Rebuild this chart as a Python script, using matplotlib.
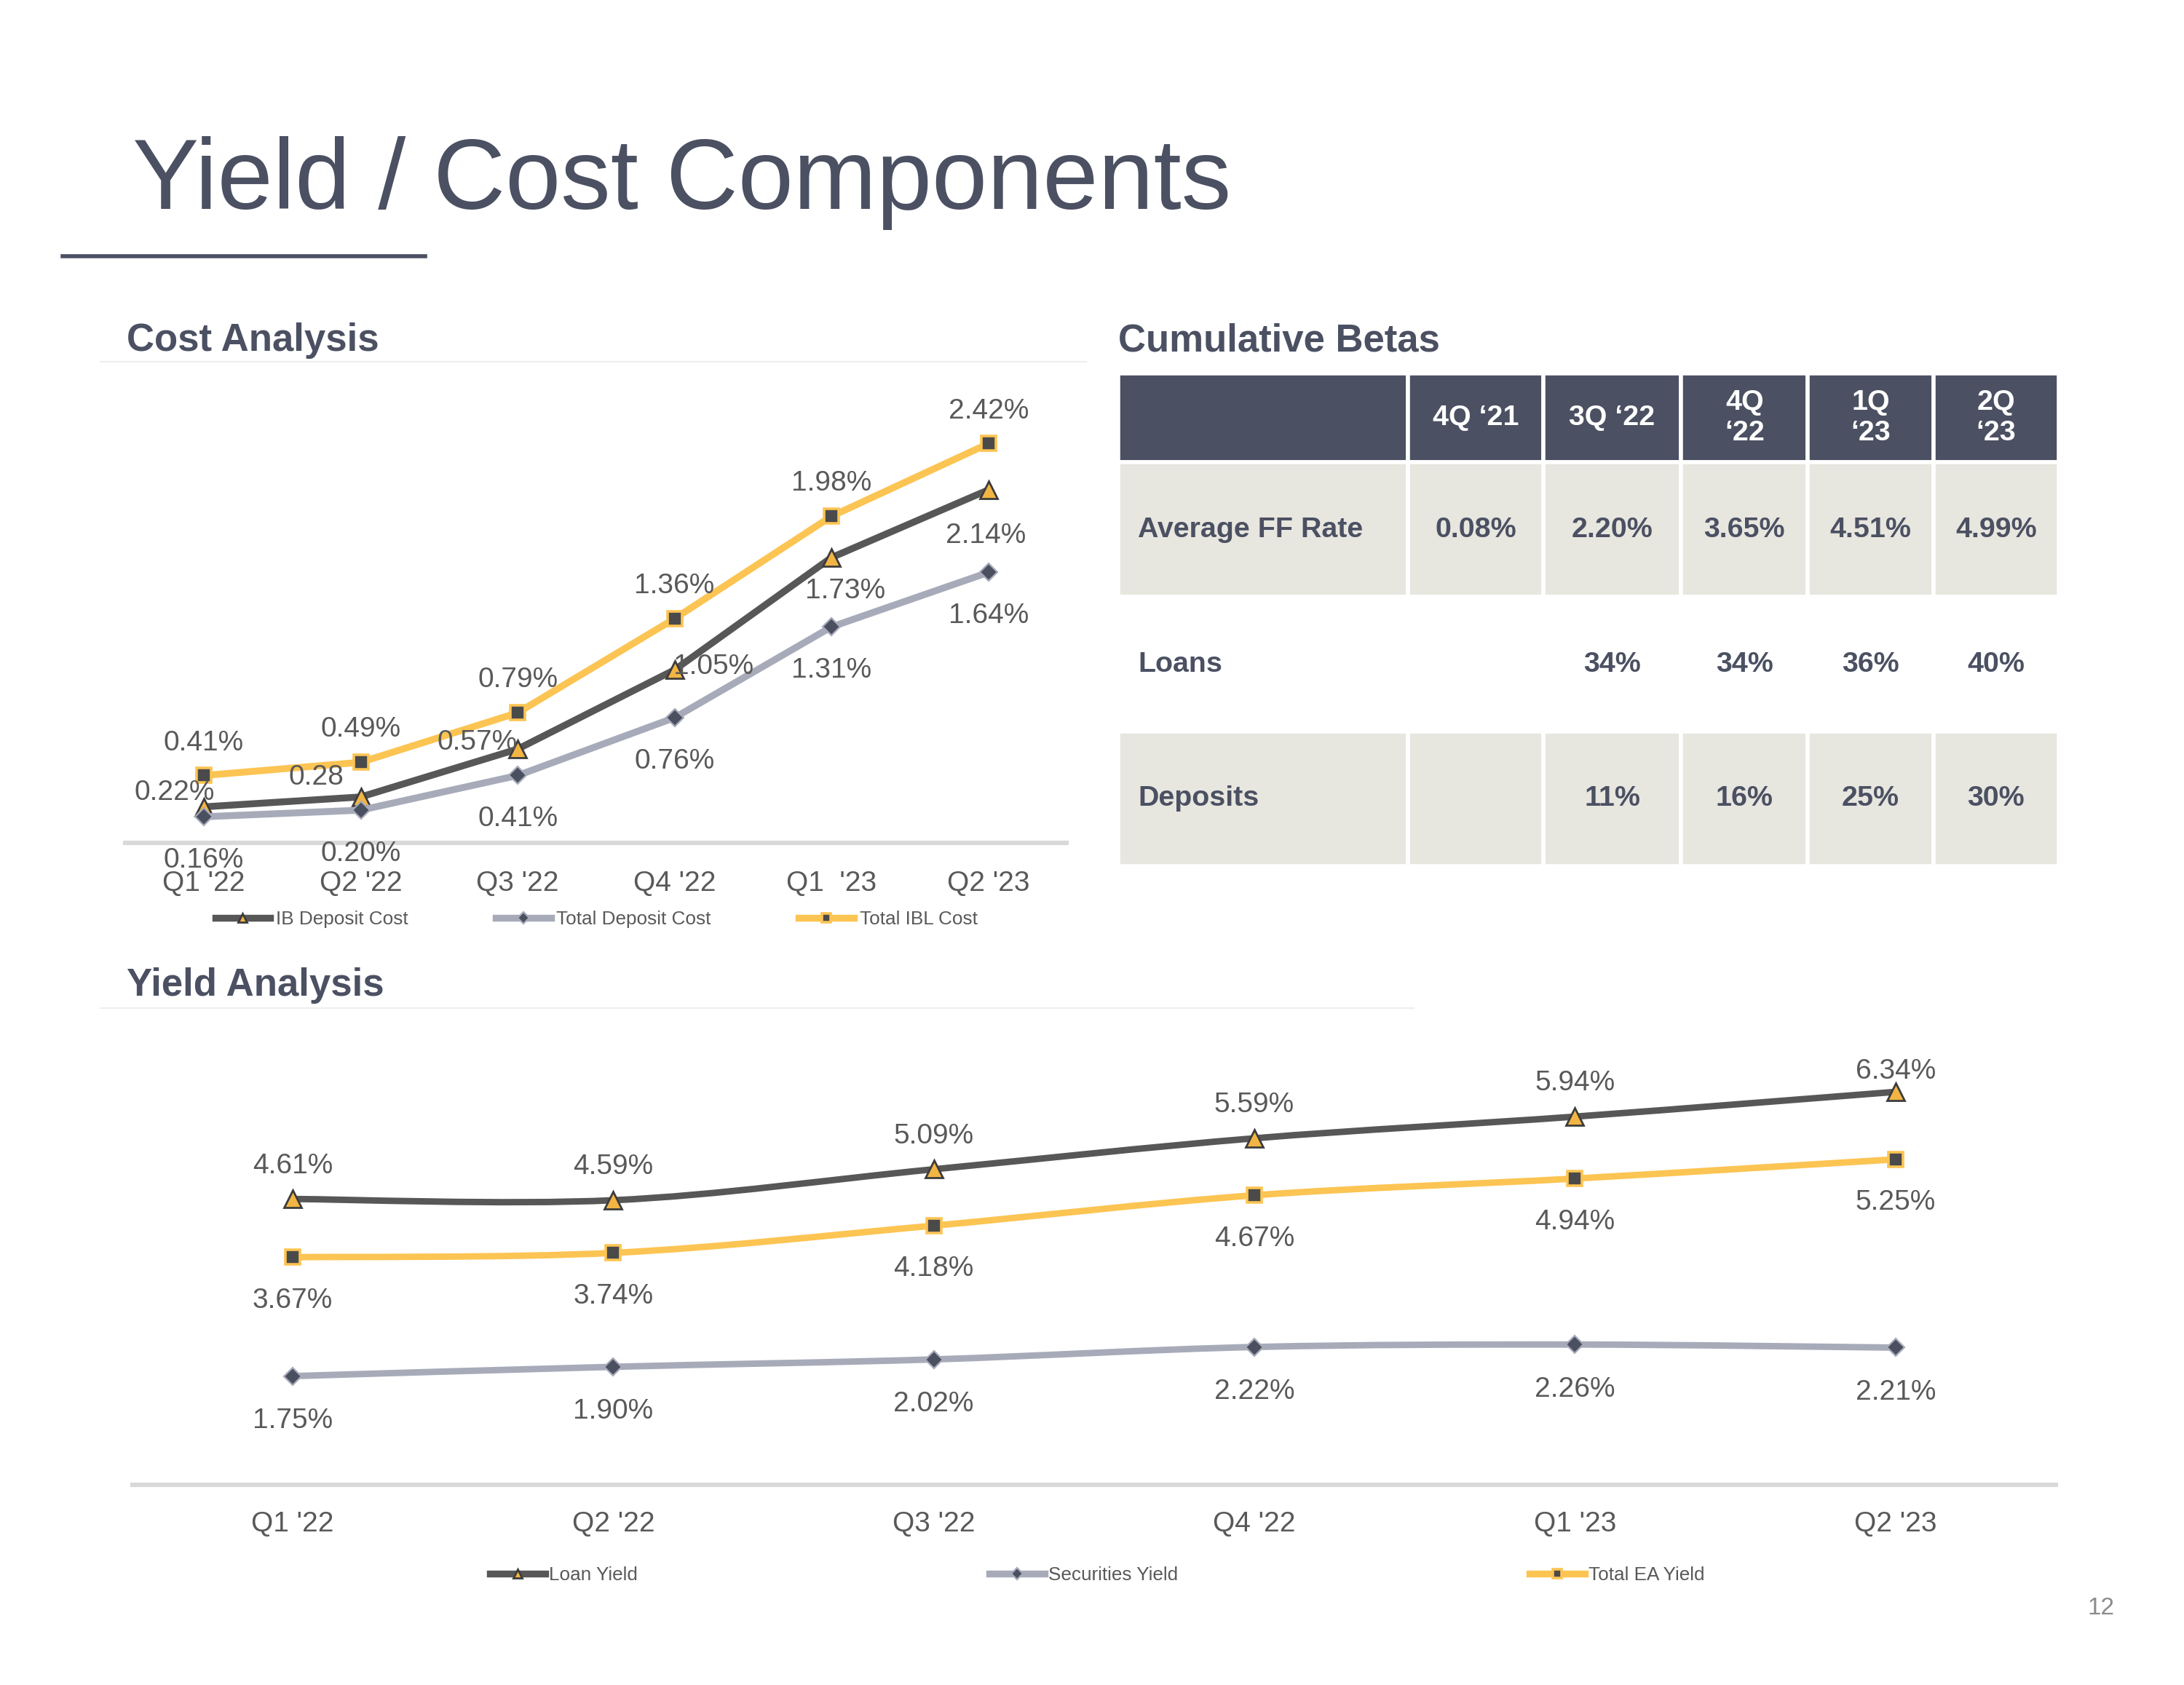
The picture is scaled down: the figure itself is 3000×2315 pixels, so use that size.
import numpy as np
import matplotlib
matplotlib.use('Agg')
import matplotlib.pyplot as plt
from matplotlib.path import Path
from matplotlib.patches import PathPatch
from matplotlib.lines import Line2D

plt.rcParams['font.family'] = ['Liberation Sans', 'DejaVu Sans']

# ---- data
cost_quarters = ["Q1 '22", "Q2 '22", "Q3 '22", "Q4 '22", "Q1  '23", "Q2 '23"]
ib_deposit_cost = [0.22, 0.28, 0.57, 1.05, 1.73, 2.14]
total_deposit_cost = [0.16, 0.20, 0.41, 0.76, 1.31, 1.64]
total_ibl_cost = [0.41, 0.49, 0.79, 1.36, 1.98, 2.42]

yield_quarters = ["Q1 '22", "Q2 '22", "Q3 '22", "Q4 '22", "Q1 '23", "Q2 '23"]
loan_yield = [4.61, 4.59, 5.09, 5.59, 5.94, 6.34]
securities_yield = [1.75, 1.90, 2.02, 2.22, 2.26, 2.21]
total_ea_yield = [3.67, 3.74, 4.18, 4.67, 4.94, 5.25]

beta_cols = ['', '4Q \u201821', '3Q \u201822', '4Q\n\u201822', '1Q\n\u201823', '2Q\n\u201823']
beta_rows = ['Average FF Rate', 'Loans', 'Deposits']
ff_rate = ['0.08%', '2.20%', '3.65%', '4.51%', '4.99%']
loans_beta = ['', '34%', '34%', '36%', '40%']
deposits_beta = ['', '11%', '16%', '25%', '30%']

# colours
SLATE = '#4b5062'
TEXT = '#595959'
DARK = '#575757'
TRI_FACE = '#f2b544'
GREY = '#a7abb9'
DIAMOND_FACE = '#4b5061'
YELLOW = '#fcc452'
SQUARE_FACE = '#4a4a4a'
BEIGE = '#e7e6df'
AXIS = '#d9d9d9'


def pct(vals):
    return ['%.2f%%' % v for v in vals]


def smooth_path(xs, ys):
    # excel style smoothed line (bezier through every point)
    pts = np.column_stack([xs, ys]).astype(float)
    n = len(pts)
    verts = [pts[0]]
    codes = [Path.MOVETO]
    for i in range(n - 1):
        p0 = pts[max(i - 1, 0)]
        p1 = pts[i]
        p2 = pts[i + 1]
        p3 = pts[min(i + 2, n - 1)]
        verts += [p1 + (p2 - p0) / 6, p2 - (p3 - p1) / 6, p2]
        codes += [Path.CURVE4] * 3
    return Path(verts, codes)


def label_points(ax, xs, ys, labels, offsets):
    for x, y, s, (dx, dy) in zip(xs, ys, labels, offsets):
        ax.annotate(s, (x, y), xytext=(dx, dy), textcoords='offset points',
                    ha='center', va='center_baseline', fontsize=14,
                    color=TEXT, zorder=6, annotation_clip=False)


def style_axes(ax, labels, pad):
    for s in ['top', 'left', 'right']:
        ax.spines[s].set_visible(False)
    ax.spines['bottom'].set_color(AXIS)
    ax.spines['bottom'].set_linewidth(2.2)
    ax.set_yticks([])
    ax.set_xticks(range(len(labels)))
    ax.set_xticklabels(labels)
    ax.tick_params(axis='x', length=0, pad=pad, labelsize=14, labelcolor=TEXT)
    ax.set_xlim(-0.5, len(labels) - 0.5)
    ax.patch.set_visible(False)


styles = {
    'tri': dict(color=DARK, marker='^', mfc=TRI_FACE, mec='#3c3c3c', mew=1.0),
    'dia': dict(color=GREY, marker='D', mfc=DIAMOND_FACE, mec=GREY, mew=0.8),
    'sq': dict(color=YELLOW, marker='s', mfc=SQUARE_FACE, mec=YELLOW, mew=1.3),
}
msize = {'tri': 8.5, 'dia': 6.3, 'sq': 7.5}

fig = plt.figure(figsize=(15, 11.575), dpi=200)

# ---- title and headings
fig.text(0.0606, 0.876, 'Yield / Cost Components', fontsize=49.3, color=SLATE, va='baseline')
fig.add_artist(Line2D([0.0287, 0.1945], [0.8479, 0.8479], transform=fig.transFigure, color=SLATE, lw=2))
fig.text(0.058, 0.7917, 'Cost Analysis', fontsize=19, fontweight='bold', color=SLATE, va='baseline')
fig.text(0.5121, 0.7917, 'Cumulative Betas', fontsize=19, fontweight='bold', color=SLATE, va='baseline')
fig.text(0.058, 0.409, 'Yield Analysis', fontsize=19, fontweight='bold', color=SLATE, va='baseline')
fig.add_artist(Line2D([0.0459, 0.4974], [0.7851, 0.7851], transform=fig.transFigure, color='#eeeeee', lw=0.8))
fig.add_artist(Line2D([0.0459, 0.6473], [0.4017, 0.4017], transform=fig.transFigure, color='#eeeeee', lw=0.8))
fig.text(0.968, 0.0455, '12', fontsize=12, color='#8c8c8c', ha='right', va='center')

# ---- cost analysis
ax1 = fig.add_axes([0.0574, 0.4996, 0.4311, 0.2773])
x = np.arange(len(cost_quarters))
cost_series = [
    (ib_deposit_cost, 'IB Deposit Cost', 'tri'),
    (total_deposit_cost, 'Total Deposit Cost', 'dia'),
    (total_ibl_cost, 'Total IBL Cost', 'sq'),
]
handles = []
for vals, name, st in cost_series:
    ax1.plot(x, vals, lw=3.4, ms=msize[st], clip_on=False, zorder=3,
             solid_capstyle='round', **styles[st])
    handles.append(Line2D([], [], lw=3.4, ms=4, label=name, **styles[st]))
ax1.set_ylim(0, 2.83)
style_axes(ax1, cost_quarters, 13.5)

ib_labels = pct(ib_deposit_cost)
ib_labels[1] = '0.28'
label_points(ax1, x, ib_deposit_cost, ib_labels,
             [(-14.5, 8.3), (-22, 11), (-20, 4.8), (19.3, 2.8), (6.9, -15.2), (-1.4, -21.4)])
label_points(ax1, x, total_deposit_cost, pct(total_deposit_cost), [(0, -20)] * 6)
label_points(ax1, x, total_ibl_cost, pct(total_ibl_cost), [(0, 17.6)] * 6)

fig.legend(handles=handles, loc='center', bbox_to_anchor=(0.273, 0.4545), ncol=3,
           frameon=False, fontsize=9.4, labelcolor=TEXT, handlelength=2.9,
           handletextpad=0.3, columnspacing=4.6)

# ---- yield analysis
ax2 = fig.add_axes([0.0606, 0.1190, 0.8807, 0.2694])
x = np.arange(len(yield_quarters))
yield_series = [
    (loan_yield, 'Loan Yield', 'tri'),
    (securities_yield, 'Securities Yield', 'dia'),
    (total_ea_yield, 'Total EA Yield', 'sq'),
]
handles = []
for vals, name, st in yield_series:
    s = styles[st]
    ax2.add_patch(PathPatch(smooth_path(x, vals), fc='none', ec=s['color'], lw=3.2,
                            capstyle='round', joinstyle='round', zorder=2))
    ax2.plot(x, vals, ls='none', ms=msize[st], clip_on=False, zorder=3, **s)
    handles.append(Line2D([], [], lw=3.4, ms=4, label=name, **s))
ax2.set_ylim(0, 7.33)
style_axes(ax2, yield_quarters, 13)

label_points(ax2, x, loan_yield, pct(loan_yield), [(0, 17.9)] * 5 + [(0, 11.7)])
label_points(ax2, x, securities_yield, pct(securities_yield), [(0, -20.7)] * 6)
label_points(ax2, x, total_ea_yield, pct(total_ea_yield), [(0, -20)] * 6)

fig.legend(handles=handles, loc='center', bbox_to_anchor=(0.5025, 0.0653), ncol=3,
           frameon=False, fontsize=9.4, labelcolor=TEXT, handlelength=2.9,
           handletextpad=0.2, columnspacing=18.5)

# ---- cumulative betas table
tax = fig.add_axes([0.5121, 0.4860, 0.4305, 0.2925])
tax.axis('off')
cell_text = [[beta_rows[0]] + ff_rate,
             [beta_rows[1]] + loans_beta,
             [beta_rows[2]] + deposits_beta]
col_widths = [208, 97, 99, 91, 90, 90]
tbl = tax.table(cellText=cell_text, colLabels=beta_cols, colWidths=col_widths,
                cellLoc='center', bbox=[0, 0, 1, 1])
tbl.auto_set_font_size(False)
for (r, c), cell in tbl.get_celld().items():
    cell.set_height(64 if r == 0 else 96.7)
    cell.set_edgecolor('white')
    cell.set_linewidth(2)
    t = cell.get_text()
    t.set_fontsize(14.2)
    t.set_fontweight('bold')
    t.set_multialignment('center')
    if r == 0:
        cell.set_facecolor(SLATE)
        t.set_color('white')
    else:
        cell.set_facecolor(BEIGE if r in (1, 3) else 'white')
        t.set_color(SLATE)
        if c == 0:
            t.set_ha('left')
            cell.PAD = 0.067

fig.savefig('out.png', dpi=200)
